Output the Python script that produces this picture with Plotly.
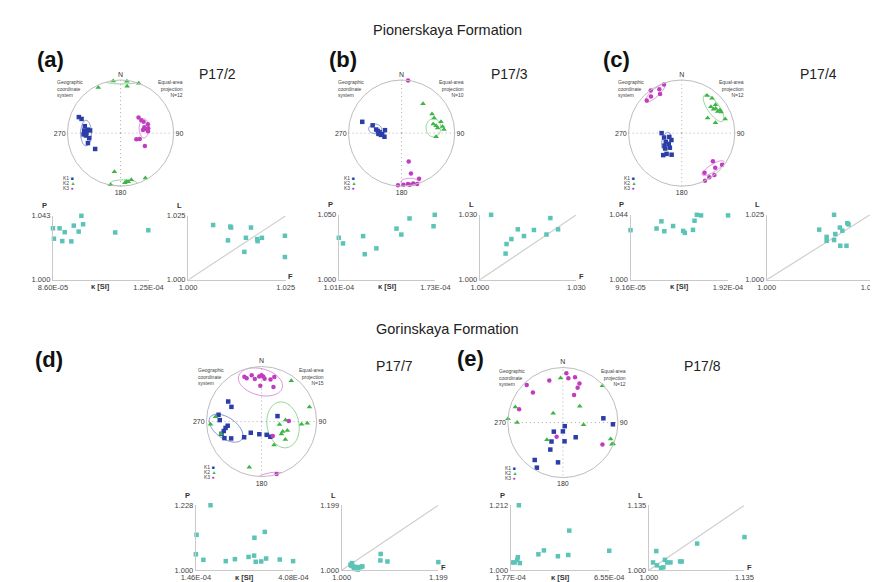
import math
import plotly.graph_objects as go

W, H = 878, 582

# ------------------------------------------------------------------ DATA
# Stereonet principal axes: azimuth (deg) and plunge (deg)
a_k1_az = [291, 290, 281, 274, 276, 275, 268, 266, 261, 253, 238, 270]
a_k1_pl = [17, 23, 32, 32, 38, 42, 31, 35, 40, 36, 43, 36]
a_k2_az = [334, 352, 7, 8, 20, 189, 191, 175, 173, 171, 167, 151]
a_k2_pl = [5, 1, 2, 12, 0, 27, 1, 7, 9, 8, 11, 4]
a_k3_az = [49, 58, 64, 72, 76, 80, 82, 86, 111, 107, 118, 80]
a_k3_pl = [53, 52, 50, 45, 52, 46, 55, 47, 64, 59, 47, 51]

b_k1_az = [286, 285, 278, 275, 272, 268, 265, 258, 280, 267]
b_k1_pl = [24, 43, 50, 53, 56, 54, 58, 63, 64, 60]
b_k2_az = [36, 58, 65, 74, 78, 82, 74, 81, 85, 96]
b_k2_pl = [32, 33, 33, 38, 34, 32, 24, 23, 21, 35]
b_k3_az = [7, 166, 167, 159, 163, 184, 178, 173, 171, 167]
b_k3_pl = [0, 44, 23, 9, 0, 2, 3, 4, 2, 3]

c_k1_az = [270, 256, 253, 236, 241, 230, 234, 219, 227, 220, 216, 205]
c_k1_pl = [59, 62, 70, 71, 62, 64, 57, 61, 55, 45, 50, 53]
c_k2_az = [34, 41, 50, 48, 53, 54, 59, 62, 60, 73, 72, 59]
c_k2_pl = [16, 14, 18, 27, 26, 22, 17, 17, 43, 34, 15, 22]
c_k3_az = [324, 313, 320, 333, 331, 340, 132, 136, 128, 150, 142, 148, 154]
c_k3_pl = [1, 11, 11, 8, 17, 3, 22, 10, 4, 15, 0, 2, 0]

d_k1_az = [301, 296, 279, 272, 263, 260, 256, 253, 246, 241, 228, 224, 190, 159, 71, 150]
d_k1_pl = [30, 39, 22, 25, 38, 34, 30, 25, 27, 37, 55, 67, 71, 69, 65, 64]
d_k2_az = [276, 267, 253, 195, 152, 36, 73, 94, 92, 99, 86, 115, 109, 127, 122]
d_k2_pl = [17, 8, 24, 15, 50, 9, 10, 28, 18, 63, 54, 55, 49, 45, 55]
d_k3_az = [339, 341, 351, 357, 360, 2, 4, 12, 16, 358, 19, 89, 142, 164, 348]
d_k3_pl = [14, 18, 23, 19, 17, 19, 23, 23, 17, 35, 34, 49, 63, 1, 15]

e_k1_az = [84, 92, 153, 180, 225, 139, 175, 211, 205, 217, 187, 210]
e_k1_pl = [27, 10, 84, 77, 71, 61, 62, 57, 45, 16, 28, 6]
e_k2_az = [357, 47, 288, 314, 274, 270, 46, 96, 223, 109, 114, 113]
e_k2_pl = [20, 2, 10, 70, 0, 18, 55, 59, 55, 9, 3, 1]
e_k3_az = [4, 7, 15, 23, 23, 22, 342, 316, 315, 287, 204, 119]
e_k3_pl = [11, 20, 16, 24, 32, 45, 21, 6, 24, 18, 67, 19]

# Confidence ellipses (axis, centre east, centre north, semi-axis a, semi-axis b, rotation deg) in projection units
a_ellipses = [("k1", -0.65, 0.0, 0.10, 0.24, 0), ("k3", 0.44, 0.09, 0.09, 0.18, 0),
              ("k2", 0.02, 0.98, 0.33, 0.055, 0), ("k2", 0.06, -0.94, 0.25, 0.06, 0)]
b_ellipses = [("k1", -0.50, 0.08, 0.12, 0.09, 0), ("k2", 0.60, 0.10, 0.14, 0.17, 0),
              ("k3", 0.16, -0.92, 0.17, 0.07, 0)]
c_ellipses = [("k1", -0.29, -0.15, 0.08, 0.17, -15), ("k2", 0.60, 0.47, 0.30, 0.11, -55),
              ("k3", -0.50, 0.75, 0.24, 0.07, 42), ("k3", 0.59, -0.66, 0.24, 0.07, 32)]
d_ellipses = [("k3", -0.02, 0.72, 0.41, 0.24, -15), ("k1", -0.645, -0.12, 0.35, 0.19, -35),
              ("k2", 0.39, -0.06, 0.29, 0.42, 10), ("k3", 0.17, -1.05, 0.30, 0.12, 10)]
e_ellipses = []

# Scalar parameters: bulk susceptibility kappa [SI], P, F, L
a_kappa = [8.60e-5, 8.64e-5, 8.87e-5, 8.98e-5, 9.08e-5, 9.35e-5, 9.45e-5, 9.65e-5, 9.76e-5, 9.83e-5, 1.114e-4, 1.249e-4]
a_P = [1.0346, 1.0276, 1.0346, 1.0260, 1.0320, 1.0258, 1.0364, 1.0324, 1.0430, 1.0373, 1.0318, 1.0333]
a_F = [1.0064, 1.0102, 1.0108, 1.0110, 1.0144, 1.0148, 1.0161, 1.0177, 1.0178, 1.0189, 1.0248, 1.0248]
a_L = [1.0214, 1.0154, 1.0208, 1.0204, 1.0109, 1.0164, 1.0204, 1.0159, 1.0151, 1.0164, 1.0172, 1.0089]

b_kappa = [1.01e-4, 1.041e-4, 1.191e-4, 1.203e-4, 1.290e-4, 1.440e-4, 1.476e-4, 1.537e-4, 1.716e-4, 1.725e-4]
b_P = [1.0323, 1.0280, 1.0336, 1.0197, 1.0242, 1.0394, 1.0348, 1.0472, 1.0412, 1.0500]
b_F = [1.0035, 1.0080, 1.0083, 1.0098, 1.0118, 1.0137, 1.0168, 1.0207, 1.0219, 1.0243]
b_L = [1.0300, 1.0121, 1.0165, 1.0188, 1.0233, 1.0202, 1.0230, 1.0209, 1.0285, 1.0233]

c_kappa = [9.16e-5, 1.184e-4, 1.234e-4, 1.264e-4, 1.354e-4, 1.458e-4, 1.475e-4, 1.559e-4, 1.575e-4, 1.599e-4, 1.642e-4, 1.920e-4]
c_P = [1.0336, 1.0347, 1.0396, 1.0329, 1.0364, 1.0331, 1.0318, 1.0338, 1.0400, 1.0440, 1.0436, 1.0436]
c_F = [1.0127, 1.0145, 1.0145, 1.0163, 1.0163, 1.0166, 1.0177, 1.0183, 1.0178, 1.0193, 1.0195, 1.0198]
c_L = [1.0193, 1.0165, 1.0150, 1.0250, 1.0153, 1.0176, 1.0201, 1.0189, 1.0131, 1.0131, 1.0218, 1.0213]

d_kappa = [1.477e-4, 1.46e-4, 1.661e-4, 1.853e-4, 2.263e-4, 2.508e-4, 2.875e-4, 3.023e-4, 3.032e-4, 3.067e-4, 3.215e-4, 3.311e-4, 3.346e-4, 3.713e-4, 4.071e-4]
d_P = [1.1243, 1.0559, 1.0365, 1.2280, 1.0319, 1.0388, 1.0467, 1.0513, 1.1140, 1.0296, 1.0308, 1.1345, 1.0410, 1.0376, 1.0319]
d_F = [1.0179, 1.0212, 1.0232, 1.0252, 1.0279, 1.0332, 1.0365, 1.0398, 1.0425, 1.0199, 1.0299, 1.0803, 1.0796, 1.0942, 1.1990]
d_L = [1.0169, 1.0219, 1.0119, 1.0070, 1.0040, 1.0020, 1.0090, 1.0100, 1.0119, 1.0139, 1.0100, 1.0498, 1.0299, 1.0269, 1.0249]

e_kappa = [1.849e-4, 1.959e-4, 2.086e-4, 2.117e-4, 2.212e-4, 2.164e-4, 3.111e-4, 3.379e-4, 4.058e-4, 4.562e-4, 4.610e-4, 6.550e-4]
e_P = [1.0254, 1.0254, 1.0339, 1.0424, 1.0233, 1.2120, 1.0519, 1.0647, 1.0456, 1.0498, 1.1293, 1.0636]
e_F = [1.0059, 1.0105, 1.0114, 1.0173, 1.0205, 1.0227, 1.0259, 1.0305, 1.0441, 1.0464, 1.0682, 1.1350]
e_L = [1.0162, 1.0398, 1.0101, 1.0047, 1.0061, 1.0216, 1.0162, 1.0162, 1.0182, 1.0182, 1.0554, 1.0689]

# Axis limits and tick labels
a_kappa_ticks = [8.60e-5, 1.25e-4]; a_kappa_labels = ["8.60E-05", "1.25E-04"]
b_kappa_ticks = [1.01e-4, 1.73e-4]; b_kappa_labels = ["1.01E-04", "1.73E-04"]
c_kappa_ticks = [9.16e-5, 1.92e-4]; c_kappa_labels = ["9.16E-05", "1.92E-04"]
d_kappa_ticks = [1.46e-4, 4.08e-4]; d_kappa_labels = ["1.46E-04", "4.08E-04"]
e_kappa_ticks = [1.77e-4, 6.55e-4]; e_kappa_labels = ["1.77E-04", "6.55E-04"]
a_P_ticks = [1.000, 1.043]; a_P_labels = ["1.000", "1.043"]
b_P_ticks = [1.000, 1.050]; b_P_labels = ["1.000", "1.050"]
c_P_ticks = [1.000, 1.044]; c_P_labels = ["1.000", "1.044"]
d_P_ticks = [1.000, 1.228]; d_P_labels = ["1.000", "1.228"]
e_P_ticks = [1.000, 1.212]; e_P_labels = ["1.000", "1.212"]
a_FL_ticks = [1.000, 1.025]; a_FL_labels = ["1.000", "1.025"]
b_FL_ticks = [1.000, 1.030]; b_FL_labels = ["1.000", "1.030"]
c_FL_ticks = [1.000, 1.025]; c_FL_labels = ["1.000", "1.025"]
d_FL_ticks = [1.000, 1.199]; d_FL_labels = ["1.000", "1.199"]
e_FL_ticks = [1.000, 1.135]; e_FL_labels = ["1.000", "1.135"]

sample_names = ["P17/2", "P17/3", "P17/4", "P17/7", "P17/8"]
sample_counts = [12, 10, 12, 15, 12]
formation_names = ["Pionerskaya Formation", "Gorinskaya Formation"]

# ------------------------------------------------------------------ STYLE / LAYOUT
FONT = "Liberation Sans, Arial, Helvetica, sans-serif"
COL = {"k1": "#2b3ea8", "k2": "#3db544", "k3": "#c23cc0"}
SYM = {"k1": "square", "k2": "triangle-up", "k3": "circle"}
TEAL = "#5cc4b7"
AXC = "#c9c9c9"

panels = [
    dict(lab="(a)", lab_xy=(28, 48), samp_xy=(201, 63), cx=101, cy=123, R=55,
         st=[(a_k1_az, a_k1_pl), (a_k2_az, a_k2_pl), (a_k3_az, a_k3_pl)], ell=a_ellipses,
         kap=a_kappa, P=a_P, F=a_F, L=a_L,
         kt=(a_kappa_ticks, a_kappa_labels), pt=(a_P_ticks, a_P_labels), ft=(a_FL_ticks, a_FL_labels),
         pbox=(31, 130, 207, 272), lbox=(171, 272, 207, 272)),
    dict(lab="(b)", lab_xy=(331, 48), samp_xy=(504, 63), cx=392, cy=123, R=55,
         st=[(b_k1_az, b_k1_pl), (b_k2_az, b_k2_pl), (b_k3_az, b_k3_pl)], ell=b_ellipses,
         kap=b_kappa, P=b_P, F=b_F, L=b_L,
         kt=(b_kappa_ticks, b_kappa_labels), pt=(b_P_ticks, b_P_labels), ft=(b_FL_ticks, b_FL_labels),
         pbox=(327, 427, 206, 272), lbox=(473, 573, 206, 272)),
    dict(lab="(c)", lab_xy=(615, 48), samp_xy=(824, 63), cx=682, cy=123, R=55,
         st=[(c_k1_az, c_k1_pl), (c_k2_az, c_k2_pl), (c_k3_az, c_k3_pl)], ell=c_ellipses,
         kap=c_kappa, P=c_P, F=c_F, L=c_L,
         kt=(c_kappa_ticks, c_kappa_labels), pt=(c_P_ticks, c_P_labels), ft=(c_FL_ticks, c_FL_labels),
         pbox=(629, 730, 206, 272), lbox=(770, 877, 206, 272)),
    dict(lab="(d)", lab_xy=(27, 353), samp_xy=(385, 360), cx=247, cy=416, R=57,
         st=[(d_k1_az, d_k1_pl), (d_k2_az, d_k2_pl), (d_k3_az, d_k3_pl)], ell=d_ellipses,
         kap=d_kappa, P=d_P, F=d_F, L=d_L,
         kt=(d_kappa_ticks, d_kappa_labels), pt=(d_P_ticks, d_P_labels), ft=(d_FL_ticks, d_FL_labels),
         pbox=(179, 280, 501, 567), lbox=(330, 430, 501, 567)),
    dict(lab="(e)", lab_xy=(463, 352), samp_xy=(704, 360), cx=559, cy=417, R=57,
         st=[(e_k1_az, e_k1_pl), (e_k2_az, e_k2_pl), (e_k3_az, e_k3_pl)], ell=e_ellipses,
         kap=e_kappa, P=e_P, F=e_F, L=e_L,
         kt=(e_kappa_ticks, e_kappa_labels), pt=(e_P_ticks, e_P_labels), ft=(e_FL_ticks, e_FL_labels),
         pbox=(505, 607, 501, 567), lbox=(648, 747, 501, 567)),
]


def px(x):
    return x / W


def py(y):
    return 1 - y / H


def note(x, y, text, size, color="#333", xanchor="center", yanchor="middle", align="center"):
    return dict(x=px(x), y=py(y), xref="paper", yref="paper", text=text, showarrow=False,
                xanchor=xanchor, yanchor=yanchor, align=align,
                font=dict(size=size, color=color, family=FONT))


def ea_r(pl):
    return math.sqrt(2) * math.sin(math.radians(90 - pl) / 2)


def ellipse_pts(ex, ey, a, b, ang, n=80):
    phi = math.radians(ang)
    rr, th = [], []
    for i in range(n + 1):
        t = 2 * math.pi * i / n
        x = ex + a * math.cos(t) * math.cos(phi) - b * math.sin(t) * math.sin(phi)
        y = ey + a * math.cos(t) * math.sin(phi) + b * math.sin(t) * math.cos(phi)
        rr.append(math.hypot(x, y))
        th.append(math.degrees(math.atan2(x, y)))
    return rr, th


fig = go.Figure()
layout = dict(width=W, height=H, margin=dict(l=0, r=0, t=0, b=0), autosize=False,
              paper_bgcolor="white", plot_bgcolor="white", showlegend=False,
              font=dict(family=FONT, color="#333"))
ann = []

ann.append(note(439, 18, formation_names[0], 14.5, "#222"))
ann.append(note(439, 322, formation_names[1], 14.5, "#222"))

for i, p in enumerate(panels):
    k = i + 1
    sp = "polar" if k == 1 else f"polar{k}"
    cx, cy, R = p["cx"], p["cy"], p["R"]
    # stereonet
    for (etype, ex, ey, a, b, ang) in p["ell"]:
        rr, th = ellipse_pts(ex, ey, a, b, ang)
        fig.add_trace(go.Scatterpolar(r=rr, theta=th, mode="lines", subplot=sp,
                                      line=dict(color=COL[etype], width=0.8), opacity=0.7,
                                      hoverinfo="skip"))
    for name, (az, pl) in zip(["k1", "k2", "k3"], p["st"]):
        fig.add_trace(go.Scatterpolar(r=[ea_r(v) for v in pl], theta=az, mode="markers",
                                      subplot=sp, cliponaxis=False,
                                      marker=dict(symbol=SYM[name], size=4.5 if name != "k2" else 5,
                                                  color=COL[name])))
    layout[sp] = dict(
        domain=dict(x=[px(cx - R), px(cx + R)], y=[py(cy + R), py(cy - R)]),
        bgcolor="rgba(0,0,0,0)",
        radialaxis=dict(visible=False, range=[0, 1]),
        angularaxis=dict(direction="clockwise", rotation=90, tickmode="array",
                         tickvals=[0, 90, 180, 270], ticktext=["N", "90", "180", "270"],
                         showline=True, linecolor="#bdbdbd", linewidth=1,
                         showgrid=True, gridcolor="#b0b0b0", griddash="1px,3px", gridwidth=1.2,
                         ticks="", tickfont=dict(size=7, color="#333", family=FONT)))
    ann.append(note(cx - 68, cy - 57, "Geographic<br>coordinate<br>system", 5, "#444",
                    "left", "top", "left"))
    ann.append(note(cx + 67, cy - 57, f"Equal-area<br>projection<br>N={sample_counts[i]}", 5, "#444",
                    "right", "top", "right"))
    for j, (name, ch) in enumerate(zip(["k1", "k2", "k3"], ["■", "▲", "●"])):
        ann.append(note(cx - 62, cy + 46 + 5 * j,
                        f"K{j + 1} <span style='color:{COL[name]}'>{ch}</span>", 5, "#444",
                        "left", "middle", "left"))
    ann.append(note(p["lab_xy"][0], p["lab_xy"][1], f"<b>{p['lab']}</b>", 22, "#111"))
    ann.append(note(p["samp_xy"][0], p["samp_xy"][1], sample_names[i], 14, "#222"))

    # scatter plots
    for j, box in enumerate([p["pbox"], p["lbox"]]):
        idx = 2 * i + j + 1
        xa = "xaxis" if idx == 1 else f"xaxis{idx}"
        ya = "yaxis" if idx == 1 else f"yaxis{idx}"
        xr = "x" if idx == 1 else f"x{idx}"
        yr = "y" if idx == 1 else f"y{idx}"
        x0, x1, yt, yb = box
        if j == 0:
            xt, yt_ = p["kt"], p["pt"]
            xs, ys = p["kap"], p["P"]
        else:
            xt, yt_ = p["ft"], p["ft"]
            xs, ys = p["F"], p["L"]
            lo, hi = p["ft"][0]
            fig.add_trace(go.Scatter(x=[lo, hi], y=[lo, hi], mode="lines", xaxis=xr, yaxis=yr,
                                     line=dict(color="#cfcfcf", width=1.2), hoverinfo="skip"))
        fig.add_trace(go.Scatter(x=xs, y=ys, mode="markers", xaxis=xr, yaxis=yr, cliponaxis=False,
                                 marker=dict(symbol="square", size=4.5, color=TEAL)))
        common = dict(showline=True, linecolor=AXC, linewidth=1.2, showgrid=False, zeroline=False,
                      ticks="", tickmode="array", tickfont=dict(size=7.5, color="#444", family=FONT))
        layout[xa] = dict(domain=[px(x0), px(x1)], anchor=yr, range=list(xt[0]),
                          tickvals=list(xt[0]), ticktext=list(xt[1]), **common)
        layout[ya] = dict(domain=[py(yb), py(yt)], anchor=xr, range=list(yt_[0]),
                          tickvals=list(yt_[0]), ticktext=list(yt_[1]), **common)
        ann.append(note(x0 - 9, yt - 10, "<b>P</b>" if j == 0 else "<b>L</b>", 7.5))
        if j == 0:
            ann.append(note((x0 + x1) / 2, yb + 7, "<b>\u03ba [SI]</b>", 7.5))
        else:
            ann.append(note(x1 + 5, yb - 3, "<b>F</b>", 7.5))

layout["annotations"] = ann
fig.update_layout(**layout)
fig.write_html("out.html")
